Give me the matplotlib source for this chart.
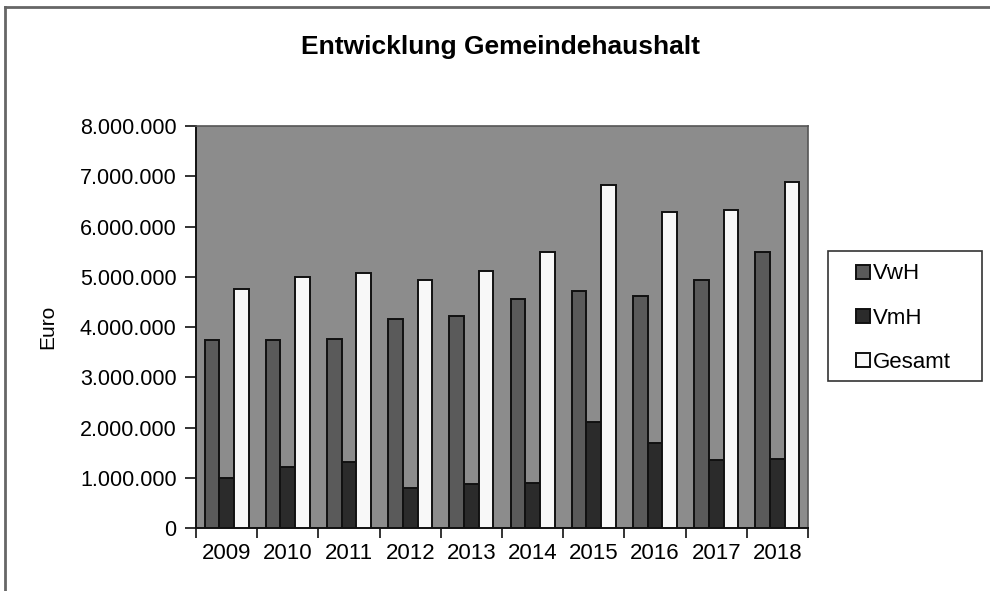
import matplotlib
matplotlib.use("Agg")
import matplotlib.pyplot as plt
from matplotlib.ticker import FuncFormatter
from matplotlib.lines import Line2D
from matplotlib.patches import Rectangle
import numpy as np

plt.rcParams['font.family'] = ['Liberation Sans', 'DejaVu Sans']

years = ["2009", "2010", "2011", "2012", "2013", "2014", "2015", "2016", "2017", "2018"]
vwh = [3740000, 3740000, 3770000, 4150000, 4220000, 4560000, 4720000, 4620000, 4940000, 5500000]
vmh = [1000000, 1220000, 1310000, 800000, 880000, 900000, 2100000, 1690000, 1350000, 1370000]
gesamt = [4750000, 4990000, 5070000, 4940000, 5120000, 5490000, 6830000, 6290000, 6330000, 6880000]
series_names = ["VwH", "VmH", "Gesamt"]
colors = ["#5a5a5a", "#2b2b2b", "#f8f8f8"]

W, H = 990, 591
fig = plt.figure(figsize=(9.9, 5.91), dpi=100)
ax = fig.add_axes([196/W, 63/H, 612/W, 402/H])
ax.set_facecolor("#8c8c8c")

x = np.arange(len(years))
w = 0.24
for i, (vals, name, c) in enumerate(zip([vwh, vmh, gesamt], series_names, colors)):
    ax.bar(x + (i - 1) * w, vals, width=w, color=c, edgecolor="#111111", linewidth=1.4, label=name, zorder=3)

ax.set_xlim(-0.5, len(years) - 0.5)
ax.set_ylim(0, 8000000)
ax.set_yticks(np.arange(0, 8000001, 1000000))
ax.yaxis.set_major_formatter(FuncFormatter(lambda v, p: "0" if v == 0 else f"{int(v):,}".replace(",", ".")))
ax.set_xticks(x)
ax.set_xticklabels(years)
ax.set_xticks(np.arange(-0.5, len(years), 1.0), minor=True)
ax.tick_params(axis="x", which="major", length=0, labelsize=16, pad=11)
ax.tick_params(axis="x", which="minor", length=7, width=1.2, direction="out", color="#111111")
ax.tick_params(axis="y", length=8, width=1.2, direction="out", labelsize=15.5, pad=6, color="#111111")

for s in ["left", "bottom"]:
    ax.spines[s].set_color("#111111")
    ax.spines[s].set_linewidth(1.4)
for s in ["top", "right"]:
    ax.spines[s].set_color("#555555")
    ax.spines[s].set_linewidth(1.2)

ax.set_ylabel("Euro", fontsize=15, labelpad=16)

fig.text(500/W, 1 - 47/H, "Entwicklung Gemeindehaushalt", ha="center", va="center",
         fontsize=19, fontweight="bold")

# legend box
fig.add_artist(Rectangle((828/W, 1 - 381/H), (982 - 828)/W, (381 - 251)/H, transform=fig.transFigure,
                         facecolor="white", edgecolor="#333333", linewidth=1.2, zorder=1))
leg = fig.legend(loc="upper left", bbox_to_anchor=(852/W, 1 - 259/H), frameon=False,
                 fontsize=16, handlelength=0.6, handleheight=0.6, handletextpad=0.15,
                 labelspacing=1.05, borderpad=0.2, borderaxespad=0)
leg.set_zorder(2)

fig.add_artist(Line2D([5/W, 1], [1 - 7/H, 1 - 7/H], transform=fig.transFigure, color="#666666", linewidth=2))
fig.add_artist(Line2D([5/W, 5/W], [0, 1 - 7/H], transform=fig.transFigure, color="#666666", linewidth=2))

fig.savefig("out.png", dpi=100)
